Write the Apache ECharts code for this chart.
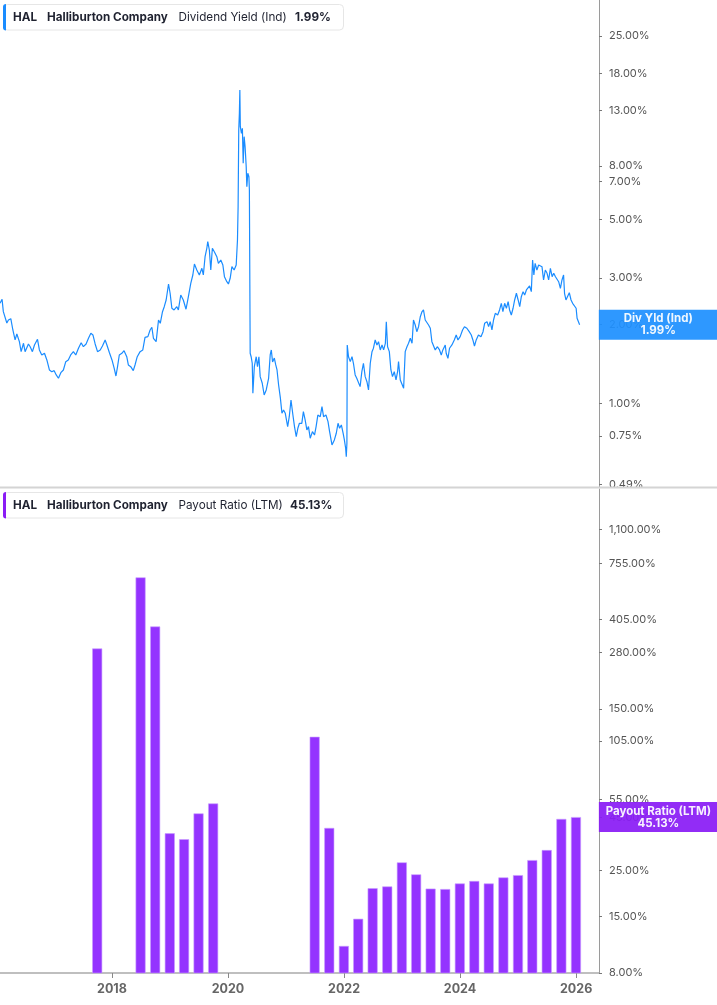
<!DOCTYPE html>
<html><head><meta charset="utf-8">
<script src="https://cdn.jsdelivr.net/npm/echarts@6/dist/echarts.min.js"></script>
<style>html,body{margin:0;padding:0;background:#fff}#c{width:717px;height:1005px}</style>
</head><body><div id="c"></div>
<script>
const yieldDates = ['2016-01-27','2016-02-09','2016-02-17','2016-02-28','2016-03-10','2016-03-20','2016-04-04','2016-04-17','2016-05-01','2016-05-12','2016-05-28','2016-06-08','2016-06-23','2016-07-03','2016-07-24','2016-08-04','2016-08-18','2016-08-31','2016-09-19','2016-10-01','2016-10-16','2016-11-02','2016-11-17','2016-12-03','2016-12-18',
'2017-01-02','2017-01-15','2017-01-29','2017-02-13','2017-03-01','2017-03-16','2017-04-01','2017-04-16','2017-05-03','2017-05-18','2017-06-04','2017-06-21','2017-07-05','2017-07-22','2017-08-06','2017-08-21','2017-09-03','2017-09-17','2017-10-02','2017-10-19','2017-11-02','2017-11-19','2017-11-30','2017-12-16',
'2018-01-01','2018-01-15','2018-01-26','2018-02-05','2018-02-16','2018-03-04','2018-03-18','2018-04-04','2018-04-14','2018-04-29','2018-05-15','2018-05-26','2018-06-09','2018-06-27','2018-07-14','2018-07-28','2018-08-15','2018-08-29','2018-09-09','2018-09-19','2018-10-06','2018-10-21','2018-11-01','2018-11-15','2018-11-26','2018-12-08','2018-12-23',
'2019-01-02','2019-01-13','2019-01-27','2019-02-13','2019-02-23','2019-03-10','2019-03-26','2019-04-12','2019-04-27','2019-05-12','2019-05-25','2019-06-04','2019-06-19','2019-07-05','2019-07-21','2019-07-30','2019-08-10','2019-08-21','2019-08-27','2019-09-06','2019-09-15','2019-09-25','2019-10-08','2019-10-23','2019-11-02','2019-11-17','2019-11-30','2019-12-10','2019-12-25',
'2020-01-04','2020-01-15','2020-01-26','2020-02-09','2020-02-22','2020-03-01','2020-03-05','2020-03-09','2020-03-13','2020-03-16','2020-03-19','2020-03-26','2020-04-01','2020-04-06','2020-04-12','2020-04-18','2020-04-25','2020-04-29','2020-05-05','2020-05-12','2020-05-15','2020-05-20','2020-05-26','2020-06-02','2020-06-06','2020-06-15','2020-06-27','2020-07-05','2020-07-14','2020-07-22','2020-08-04','2020-08-16','2020-08-29','2020-09-13','2020-09-23','2020-09-30','2020-10-08','2020-10-19','2020-10-28','2020-11-05','2020-11-15','2020-11-26','2020-12-06','2020-12-16','2020-12-27',
'2021-01-11','2021-01-21','2021-02-01','2021-02-13','2021-02-23','2021-03-06','2021-03-16','2021-03-26','2021-04-10','2021-04-20','2021-05-01','2021-05-12','2021-05-22','2021-06-02','2021-06-16','2021-06-29','2021-07-09','2021-07-20','2021-08-04','2021-08-15','2021-08-25','2021-09-09','2021-09-22','2021-10-02','2021-10-17','2021-11-01','2021-11-13','2021-11-24','2021-12-04','2021-12-15','2021-12-26',
'2022-01-03','2022-01-11','2022-01-15','2022-01-19','2022-01-21','2022-01-29','2022-02-09','2022-02-20','2022-03-01','2022-03-12','2022-03-22','2022-04-01','2022-04-12','2022-04-23','2022-05-03','2022-05-14','2022-05-25','2022-06-04','2022-06-15','2022-06-26','2022-07-05','2022-07-16','2022-07-27','2022-08-06','2022-08-17','2022-08-28','2022-09-07','2022-09-18','2022-09-24','2022-10-02','2022-10-13','2022-10-23','2022-11-02','2022-11-13','2022-11-24','2022-12-04','2022-12-10','2022-12-21',
'2023-01-01','2023-01-11','2023-01-21','2023-02-01','2023-02-11','2023-02-22','2023-03-05','2023-03-14','2023-03-25','2023-04-04','2023-04-15','2023-04-26','2023-05-06','2023-05-16','2023-05-27','2023-06-07','2023-06-17','2023-06-28','2023-07-08','2023-07-18','2023-07-29','2023-08-12','2023-08-25','2023-09-05','2023-09-15','2023-09-30','2023-10-06','2023-10-17','2023-10-27','2023-11-11','2023-11-26','2023-12-08','2023-12-19',
'2024-01-02','2024-01-17','2024-01-29','2024-02-13','2024-02-28','2024-03-12','2024-03-22','2024-04-01','2024-04-12','2024-04-26','2024-05-12','2024-05-25','2024-06-04','2024-06-19','2024-06-29','2024-07-09','2024-07-20','2024-07-30','2024-08-10','2024-08-25','2024-09-06','2024-09-17','2024-09-27','2024-10-08','2024-10-19','2024-10-30','2024-11-08','2024-11-19','2024-11-30','2024-12-10','2024-12-21',
'2025-01-01','2025-01-11','2025-01-21','2025-02-01','2025-02-11','2025-02-22','2025-03-05','2025-03-14','2025-03-25','2025-04-02','2025-04-10','2025-04-18','2025-04-29','2025-05-10','2025-05-20','2025-05-31','2025-06-10','2025-06-21','2025-07-02','2025-07-12','2025-07-23','2025-08-03','2025-08-13','2025-08-24','2025-09-03','2025-09-13','2025-09-24','2025-10-04','2025-10-14','2025-10-20','2025-10-29','2025-11-08','2025-11-19','2025-11-30','2025-12-10','2025-12-21',
'2026-01-01','2026-01-07','2026-01-17','2026-01-23'];
const yieldValues = [2.402,2.488,2.232,2.207,2.021,2.075,2.099,1.901,1.742,1.836,1.716,1.572,1.692,1.572,1.682,1.642,1.572,1.667,1.752,1.596,1.527,1.550,1.462,1.339,1.319,
1.331,1.282,1.245,1.308,1.339,1.440,1.462,1.527,1.572,1.527,1.620,1.701,1.642,1.682,1.768,1.847,1.820,1.682,1.572,1.596,1.652,1.742,1.667,1.558,
1.462,1.359,1.270,1.378,1.527,1.550,1.586,1.504,1.399,1.378,1.331,1.399,1.504,1.572,1.596,1.783,1.793,1.901,1.947,1.768,1.716,2.075,2.016,2.232,2.332,2.473,2.845,
2.623,2.300,2.266,2.332,2.266,2.584,2.473,2.280,2.545,2.863,3.079,3.390,3.217,3.079,3.265,3.079,3.614,3.891,4.122,3.833,3.217,3.891,3.766,3.614,3.411,3.511,3.361,3.033,2.903,
2.845,2.991,3.311,3.217,3.361,4.184,5.603,10.97,12.70,15.58,11.30,10.66,11.14,8.196,10.35,9.480,7.955,6.676,7.508,7.288,6.486,1.550,1.504,1.420,1.092,1.378,1.504,1.378,1.504,1.263,1.192,1.075,1.124,1.245,1.527,1.596,1.436,1.487,1.399,1.339,1.174,1.048,0.916,0.943,0.916,
0.815,0.889,1.029,0.902,0.815,0.746,0.803,0.839,0.839,0.929,0.864,0.791,0.815,0.736,0.780,0.757,0.815,0.902,0.889,0.971,0.889,0.902,0.851,0.780,0.694,0.725,0.769,0.839,0.803,0.827,0.769,
0.725,0.674,0.626,0.704,1.667,1.504,1.440,1.504,1.420,1.282,1.245,1.263,1.157,1.319,1.420,1.263,1.208,1.124,1.420,1.572,1.620,1.742,1.667,1.716,1.596,1.667,1.596,1.692,2.045,1.642,1.572,1.339,1.263,1.319,1.227,1.319,1.440,1.227,
1.245,1.141,1.572,1.642,1.692,1.768,1.692,2.075,1.986,1.873,1.957,2.136,2.226,2.266,2.075,2.039,1.986,1.930,1.716,1.692,1.596,1.642,1.596,1.527,1.596,1.667,1.550,1.483,1.620,1.667,1.742,1.820,1.742,
1.793,1.901,1.957,1.930,1.873,1.820,1.742,1.652,1.742,1.820,1.793,1.873,2.016,2.045,1.957,2.045,1.901,2.075,2.201,2.168,2.266,2.402,2.232,2.402,2.300,2.436,2.266,2.168,2.300,2.473,2.623,
2.473,2.332,2.545,2.660,2.584,2.700,2.660,2.796,2.660,3.511,3.079,3.411,3.217,3.361,3.411,3.311,2.947,3.217,3.125,2.947,3.265,3.033,3.125,3.033,3.079,2.903,2.740,2.947,3.079,2.623,2.473,2.510,2.636,2.473,2.402,2.436,
2.300,2.106,2.075,1.99];

const payoutDates = ['2017-09-30','2018-06-30','2018-09-30','2018-12-31','2019-03-31','2019-06-30','2019-09-30',
'2021-06-30','2021-09-30','2021-12-31','2022-03-31','2022-06-30','2022-09-30','2022-12-31','2023-03-31','2023-06-30','2023-09-30','2023-12-31','2024-03-31','2024-06-30','2024-09-30','2024-12-31','2025-03-31','2025-06-30','2025-09-30','2025-12-31'];
const payoutValues = [293,645,374,37.7,35.3,47,52.5,
110,40,10.8,14.6,20.5,20.9,27.3,23.9,20.4,20.3,21.6,22.2,21.6,23.1,23.7,28.0,31.3,44.2,45.13];

const yieldTicks = [0.49,0.75,1,2,3,5,7,8,13,18,25];
const payoutTicks = [8,15,25,45,55,105,150,280,405,755,1100];
const yearTicks = ['2018-01-01','2020-01-01','2022-01-01','2024-01-01','2026-01-01'];
const xStart = '2016-01-27';
const xEnd = '2026-05-25';

const FONT = 'Inter, "Noto Sans", sans-serif';
const BLUE = '#1a8cff';
const PURPLE = '#9433ff';
const fmtPct = v => Number(v).toLocaleString('en-US', {minimumFractionDigits: 2, maximumFractionDigits: 2}) + '%';
const t = s => Date.parse(s);   // ISO date -> ms (UTC) for the value x-axis

const chart = echarts.init(document.getElementById('c'), null, {renderer: 'canvas'});

function legendBox(y, accent, label, value) {
  const f = 11.7;
  return {
    type: 'group',
    children: [
      {type: 'rect', shape: {x: 3.5, y: y + 0.5, width: 340, height: 25.5, r: 4}, style: {fill: '#fff', stroke: '#e6e6e6', lineWidth: 1}, z: 100},
      {type: 'rect', shape: {x: 3, y: y, width: 3, height: 26.5, r: [3, 0, 0, 3]}, style: {fill: accent}, z: 101},
      {type: 'text', x: 13, y: y + 13, style: {text: 'HAL', fill: '#1f2230', font: 'bold ' + f + 'px ' + FONT, verticalAlign: 'middle'}, z: 101},
      {type: 'text', x: 47, y: y + 13, style: {text: 'Halliburton Company', fill: '#1f2230', font: 'bold ' + f + 'px ' + FONT, verticalAlign: 'middle'}, z: 101},
      {type: 'text', x: 178.5, y: y + 13, style: {text: label, fill: '#1f2230', font: f + 'px ' + FONT, verticalAlign: 'middle'}, z: 101},
      {type: 'text', x: value.x, y: y + 13, style: {text: value.t, fill: '#1f2230', font: 'bold ' + f + 'px ' + FONT, verticalAlign: 'middle'}, z: 101}
    ]
  };
}

const yAxisCommon = {
  type: 'log', logBase: 10, position: 'right',
  axisLine: {show: true, lineStyle: {color: '#9a9a9a', width: 1}},
  splitLine: {show: false},
  minorTick: {show: false}
};

const xTickValues = yearTicks.map(t);

const option = {
  backgroundColor: '#fff',
  animation: false,
  grid: [
    {left: 0, right: 118, top: 0, height: 487, containLabel: false},
    {left: 0, right: 118, top: 489, bottom: 32, containLabel: false}
  ],
  xAxis: [
    {type: 'value', gridIndex: 0, min: t(xStart), max: t(xEnd),
     axisLine: {show: false}, axisTick: {show: false}, axisLabel: {show: false}, splitLine: {show: false}},
    {type: 'value', gridIndex: 1, min: t(xStart), max: t(xEnd),
     axisLine: {show: true, onZero: false, lineStyle: {color: '#aaaaaa', width: 1.5}},
     axisTick: {show: true, length: 5, lineStyle: {color: '#888'}, customValues: xTickValues},
     axisLabel: {customValues: xTickValues, formatter: v => String(new Date(v).getUTCFullYear()),
       color: '#666', fontSize: 12.5, fontWeight: 'bold', fontFamily: FONT, margin: 10},
     splitLine: {show: false}}
  ],
  yAxis: [
    Object.assign({}, yAxisCommon, {gridIndex: 0, min: 0.48, max: 34.3,
      axisTick: {show: true, length: 3, lineStyle: {color: '#777'}, customValues: yieldTicks},
      axisLabel: {customValues: yieldTicks, formatter: fmtPct, color: '#555', fontSize: 11, fontFamily: FONT, margin: 10}}),
    Object.assign({}, yAxisCommon, {gridIndex: 1, min: 8, max: 1720,
      axisTick: {show: true, length: 3, lineStyle: {color: '#777'}, customValues: payoutTicks},
      axisLabel: {customValues: payoutTicks, formatter: fmtPct, color: '#555', fontSize: 11, fontFamily: FONT, margin: 10}})
  ],
  series: [
    {
      type: 'line', name: 'Dividend Yield (Ind)', xAxisIndex: 0, yAxisIndex: 0,
      data: yieldDates.map((d, i) => [t(d), yieldValues[i]]),
      showSymbol: false, symbol: 'none',
      lineStyle: {color: BLUE, width: 1.2}, itemStyle: {color: BLUE},
      markPoint: {
        symbol: 'rect', symbolSize: [119, 30], symbolOffset: [78.7, 0], silent: true,
        itemStyle: {color: '#1e90ff', opacity: 0.93},
        label: {show: true, position: 'inside', formatter: 'Div Yld (Ind)\n' + fmtPct(yieldValues[yieldValues.length - 1]),
          color: '#fff', fontWeight: 'bold', fontSize: 11.5, lineHeight: 12, fontFamily: FONT, align: 'center'},
        data: [{coord: [t(yieldDates[yieldDates.length - 1]), yieldValues[yieldValues.length - 1]]}]
      }
    },
    {
      type: 'bar', name: 'Payout Ratio (LTM)', xAxisIndex: 1, yAxisIndex: 1,
      data: payoutDates.map((d, i) => [t(d), payoutValues[i]]),
      barWidth: 10, clip: true,
      itemStyle: {color: PURPLE, borderColor: '#c89cff', borderWidth: 0.6},
      markPoint: {
        symbol: 'rect', symbolSize: [119, 30], symbolOffset: [82.4, 0], silent: true,
        itemStyle: {color: '#8a1cf5', opacity: 0.93},
        label: {show: true, position: 'inside', formatter: 'Payout Ratio (LTM)\n' + fmtPct(payoutValues[payoutValues.length - 1]),
          color: '#fff', fontWeight: 'bold', fontSize: 11.5, lineHeight: 12, fontFamily: FONT, align: 'center'},
        data: [{coord: [t(payoutDates[payoutDates.length - 1]), payoutValues[payoutValues.length - 1]]}]
      }
    }
  ],
  graphic: [
    {type: 'line', shape: {x1: 0, y1: 487.5, x2: 717, y2: 487.5}, style: {stroke: '#d4d4d4', lineWidth: 2}, z: 50},
    legendBox(4, '#1a8cff', 'Dividend Yield (Ind)', {x: 295, t: fmtPct(yieldValues[yieldValues.length - 1])}),
    legendBox(492, '#8a1cf5', 'Payout Ratio (LTM)', {x: 290, t: fmtPct(payoutValues[payoutValues.length - 1])})
  ]
};
chart.setOption(option);
</script></body></html>
